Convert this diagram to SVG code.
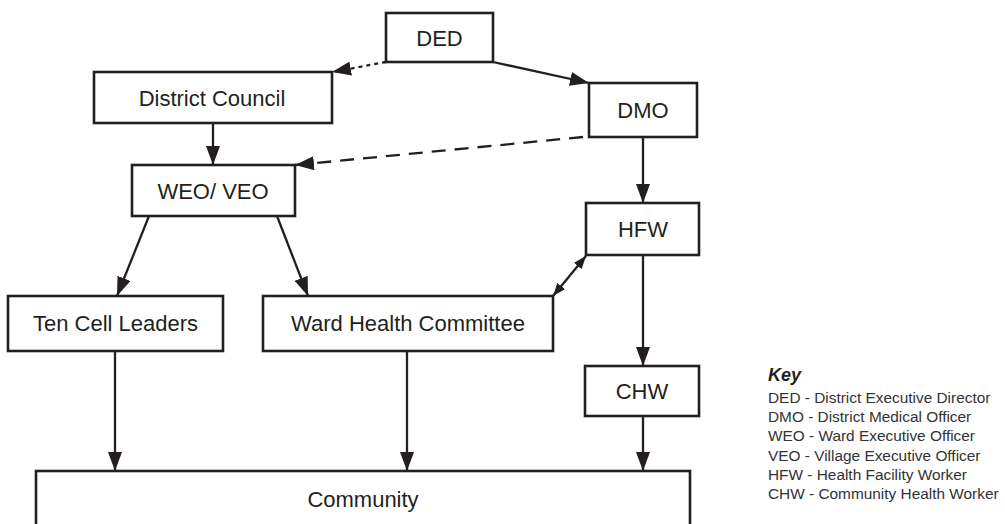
<svg xmlns="http://www.w3.org/2000/svg" width="1005" height="524" viewBox="0 0 1005 524">
<style>
.box{fill:#fff;stroke:#231f20;stroke-width:2.6}
.lbl{font-family:"Liberation Sans",Arial,sans-serif;font-size:22px;fill:#231f20;text-anchor:middle}
.con{fill:none;stroke:#231f20;stroke-width:2.3}
.key{font-family:"Liberation Sans",Arial,sans-serif;font-size:15.4px;fill:#333}
.keyh{font-family:"Liberation Sans",Arial,sans-serif;font-size:18px;font-weight:bold;font-style:italic;fill:#231f20}
</style>
<defs>
<marker id="arr" markerUnits="userSpaceOnUse" markerWidth="19" markerHeight="14" refX="19" refY="7" orient="auto">
<path d="M0,0 L19,7 L0,14 z" fill="#231f20"/>
</marker>
<marker id="sarr" markerUnits="userSpaceOnUse" markerWidth="13" markerHeight="10" refX="13" refY="5" orient="auto-start-reverse">
<path d="M0,0 L13,5 L0,10 z" fill="#231f20"/>
</marker>
</defs>
<rect width="1005" height="524" fill="#fff"/>
<g id="connectors">
<path class="con" d="M386,62 L332,72" stroke-dasharray="4,4" marker-end="url(#arr)"/>
<path class="con" d="M493,62 L589,83" marker-end="url(#arr)"/>
<path class="con" d="M213,123 L213,165" marker-end="url(#arr)"/>
<path class="con" d="M583,137 L295,165" stroke-dasharray="14,9" marker-end="url(#arr)"/>
<path class="con" d="M643,137 L643,203" marker-end="url(#arr)"/>
<path class="con" d="M149,216 L117,296" marker-end="url(#arr)"/>
<path class="con" d="M277,216 L308,296" marker-end="url(#arr)"/>
<path class="con" d="M586,256 L553,296" marker-start="url(#sarr)" marker-end="url(#sarr)"/>
<path class="con" d="M643,255 L643,366" marker-end="url(#arr)"/>
<path class="con" d="M115,351 L115,471" marker-end="url(#arr)"/>
<path class="con" d="M407,351 L407,471" marker-end="url(#arr)"/>
<path class="con" d="M643,416 L643,471" marker-end="url(#arr)"/>
</g>
<g id="ded"><rect class="box" x="386" y="13" width="107" height="49"/><text class="lbl" x="439.5" y="45.5">DED</text></g>
<g id="district-council"><rect class="box" x="94" y="72" width="238" height="51"/><text class="lbl" x="212" y="105.5">District Council</text></g>
<g id="dmo"><rect class="box" x="589" y="83" width="108" height="54"/><text class="lbl" x="643" y="118">DMO</text></g>
<g id="weo-veo"><rect class="box" x="132" y="165" width="163" height="51"/><text class="lbl" x="213" y="198.5">WEO/ VEO</text></g>
<g id="hfw"><rect class="box" x="586" y="203" width="113" height="52"/><text class="lbl" x="643" y="237">HFW</text></g>
<g id="ten-cell-leaders"><rect class="box" x="8" y="296" width="215" height="55"/><text class="lbl" x="115.5" y="331">Ten Cell Leaders</text></g>
<g id="ward-health-committee"><rect class="box" x="263" y="296" width="290" height="55"/><text class="lbl" x="408" y="331">Ward Health Committee</text></g>
<g id="chw"><rect class="box" x="585" y="366" width="114" height="50"/><text class="lbl" x="642" y="399">CHW</text></g>
<g id="community"><rect class="box" x="36" y="471" width="654" height="70"/><text class="lbl" x="363" y="507">Community</text></g>
<g id="key">
<text class="keyh" x="768" y="381">Key</text>
<text class="key" x="768" y="403">DED - District Executive Director</text>
<text class="key" x="768" y="422">DMO - District Medical Officer</text>
<text class="key" x="768" y="441">WEO - Ward Executive Officer</text>
<text class="key" x="768" y="461">VEO - Village Executive Officer</text>
<text class="key" x="768" y="480">HFW - Health Facility Worker</text>
<text class="key" x="768" y="499">CHW - Community Health Worker</text>
</g>
</svg>
